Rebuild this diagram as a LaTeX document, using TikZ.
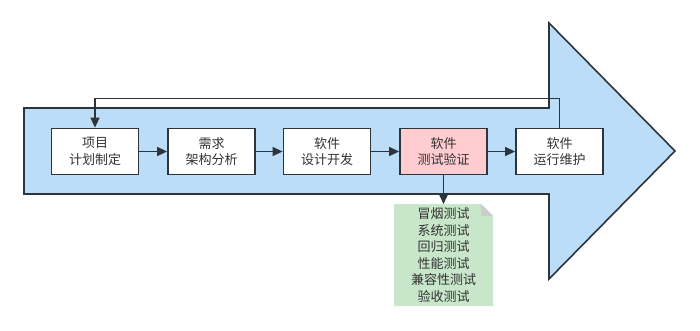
\documentclass[tikz,border=0pt]{standalone}
\usepackage{fontspec}
\setmainfont{Noto Sans CJK SC}
\usetikzlibrary{arrows.meta}
\definecolor{shaftblue}{RGB}{188,221,247}
\definecolor{linedark}{RGB}{45,52,60}
\definecolor{pinkfill}{RGB}{255,204,208}
\definecolor{notegreen}{RGB}{200,230,201}
\definecolor{foldgray}{RGB}{205,205,205}
\definecolor{txt}{RGB}{50,50,50}
\tikzset{
  stage/.style={draw=linedark, line width=1.8pt, fill=white, minimum width=87pt, minimum height=46pt, inner sep=0pt, align=center, font=\fontsize{13}{16.5}\selectfont, text=txt},
  conn/.style={draw=linedark, line width=1.6pt, -{Triangle[length=10pt,width=9pt]}},
}
\begin{document}
\begin{tikzpicture}[x=1pt,y=-1pt]
\useasboundingbox (0,0) rectangle (700,330);
% big arrow
\draw[linedark, line width=1.6pt, fill=shaftblue, line join=miter]
  (24,108) -- (549,108) -- (549,23) -- (675,151) -- (549,279) -- (549,194) -- (24,194) -- cycle;
% stages
\node[stage] (s1) at (95,151.5) {项目\\计划制定};
\node[stage] (s2) at (211.5,151.5) {需求\\架构分析};
\node[stage] (s3) at (327,151.5) {软件\\设计开发};
\node[stage, fill=pinkfill] (s4) at (443.5,151.5) {软件\\测试验证};
\node[stage] (s5) at (559.5,151.5) {软件\\运行维护};
% note
\fill[notegreen] (394,204) -- (481,204) -- (493,216) -- (493,306) -- (394,306) -- cycle;
\fill[foldgray] (481,204) -- (493,216) -- (481,216) -- cycle;
\node[font=\fontsize{13}{16.5}\selectfont, text=txt, align=center, inner sep=0pt] (note) at (443.5,255)
  {冒烟测试\\系统测试\\回归测试\\性能测试\\兼容性测试\\验收测试};
\coordinate (notetop) at (443.5,204);
% connectors
\draw[conn] (s1) -- (s2);
\draw[conn] (s2) -- (s3);
\draw[conn] (s3) -- (s4);
\draw[conn] (s4) -- (s5);
\draw[conn] (s4.south) -- (notetop);
\draw[conn] (s5.north) -- ++(0,-29) -| (s1.north);
\end{tikzpicture}
\end{document}
